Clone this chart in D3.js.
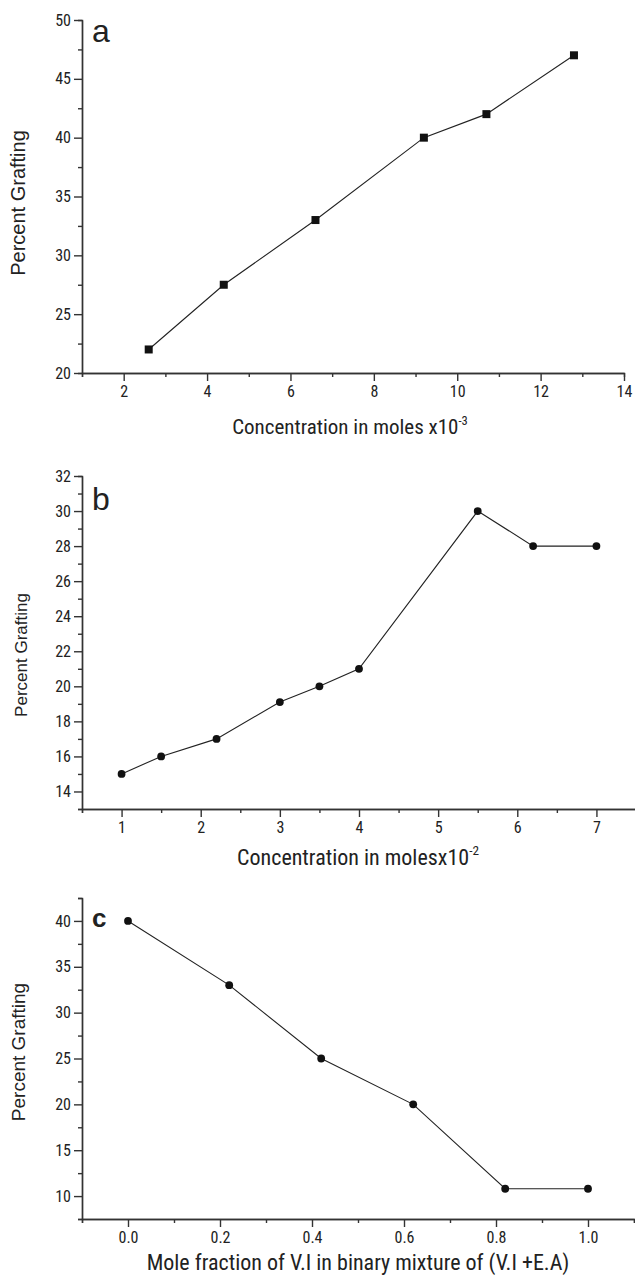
<!DOCTYPE html>
<html lang="en">
<head>
    <meta charset="UTF-8">
    <title>Percent Grafting</title>
    <script src="https://d3js.org/d3.v7.min.js"></script>
    <style>
        body { margin: 0; background: #fff; }
        svg text { fill: #222; }
    </style>
</head>
<body>
    <svg width="635" height="1275"></svg>

    <script>
        // Panel a: concentration (moles x10^-3) vs percent grafting
        const concA = [2.6, 4.4, 6.6, 9.2, 10.7, 12.8];
        const graftA = [22, 27.5, 33, 40, 42, 47];

        // Panel b: concentration (moles x10^-2) vs percent grafting
        const concB = [1, 1.5, 2.2, 3, 3.5, 4, 5.5, 6.2, 7];
        const graftB = [15, 16, 17, 19.1, 20, 21, 30, 28, 28];

        // Panel c: mole fraction of V.I vs percent grafting
        const fracC = [0, 0.22, 0.42, 0.62, 0.82, 1.0];
        const graftC = [40, 33, 25, 20, 10.8, 10.8];

        // tick values
        const xMajorA = [2, 4, 6, 8, 10, 12, 14];
        const xMinorA = [1, 3, 5, 7, 9, 11, 13];
        const yMajorA = [20, 25, 30, 35, 40, 45, 50];
        const yMinorA = [22.5, 27.5, 32.5, 37.5, 42.5, 47.5];

        const xMajorB = [1, 2, 3, 4, 5, 6, 7];
        const xMinorB = [0.5, 1.5, 2.5, 3.5, 4.5, 5.5, 6.5, 7.5];
        const yMajorB = [14, 16, 18, 20, 22, 24, 26, 28, 30, 32];
        const yMinorB = [13, 15, 17, 19, 21, 23, 25, 27, 29, 31];

        const xMajorC = [0, 0.2, 0.4, 0.6, 0.8, 1.0];
        const xMinorC = [-0.1, 0.1, 0.3, 0.5, 0.7, 0.9, 1.1];
        const yMajorC = [10, 15, 20, 25, 30, 35, 40];
        const yMinorC = [7.5, 12.5, 17.5, 22.5, 27.5, 32.5, 37.5, 42.5];

        const svg = d3.select("svg");
        const narrow = "'Liberation Sans Narrow', 'Arial Narrow', 'Roboto Condensed', sans-serif";
        const wide = "'Liberation Sans', Arial, sans-serif";

        function panel(p) {
            const x = d3.scaleLinear().domain(p.xDomain).range([82, p.xRight]);
            const y = d3.scaleLinear().domain(p.yDomain).range([p.bottom, p.top]);
            const g = svg.append("g");

            // minor ticks
            g.append("g")
                .attr("transform", `translate(0,${p.bottom})`)
                .call(d3.axisBottom(x).tickValues(p.xMinor).tickSize(4).tickFormat(""));
            g.append("g")
                .attr("transform", `translate(82,0)`)
                .call(d3.axisLeft(y).tickValues(p.yMinor).tickSize(4).tickFormat(""));

            // major ticks + labels
            g.append("g")
                .attr("transform", `translate(0,${p.bottom})`)
                .call(d3.axisBottom(x).tickValues(p.xMajor).tickSize(8).tickSizeOuter(0).tickPadding(5).tickFormat(p.xFmt));
            g.append("g")
                .attr("transform", `translate(82,0)`)
                .call(d3.axisLeft(y).tickValues(p.yMajor).tickSize(8).tickSizeOuter(0).tickPadding(3).tickFormat(d3.format("d")));

            g.selectAll(".domain, .tick line").attr("stroke", "#333").attr("stroke-width", 1.4);
            g.selectAll(".tick text")
                .style("font-family", narrow)
                .style("font-size", "16px")
                .attr("fill", "#222");

            // series line
            const line = d3.line().x(d => x(d[0])).y(d => y(d[1]));
            const pts = p.xs.map((v, i) => [v, p.ys[i]]);
            g.append("path")
                .datum(pts)
                .attr("fill", "none")
                .attr("stroke", "#222")
                .attr("stroke-width", 1.1)
                .attr("d", line);

            if (p.square) {
                g.selectAll(".pt").data(pts).join("rect")
                    .attr("x", d => x(d[0]) - 4)
                    .attr("y", d => y(d[1]) - 4)
                    .attr("width", 8)
                    .attr("height", 8)
                    .attr("fill", "#111");
            } else {
                g.selectAll(".pt").data(pts).join("circle")
                    .attr("cx", d => x(d[0]))
                    .attr("cy", d => y(d[1]))
                    .attr("r", 3.9)
                    .attr("fill", "#111");
            }

            // panel letter
            g.append("text")
                .attr("x", 92)
                .attr("y", p.letterY)
                .style("font-family", wide)
                .style("font-size", p.letterSize + "px")
                .style("font-weight", p.letterWeight || "normal")
                .text(p.letter);

            // y title
            g.append("text")
                .attr("transform", `translate(${p.yTitleX},${p.yTitleY}) rotate(-90)`)
                .attr("text-anchor", "middle")
                .style("font-family", wide)
                .style("font-size", p.yTitleSize + "px")
                .text("Percent Grafting");

            // x title
            const t = g.append("text")
                .attr("x", p.xTitleX)
                .attr("y", p.xTitleY)
                .attr("text-anchor", "middle")
                .style("font-family", narrow)
                .style("font-size", p.xTitleSize + "px");
            t.append("tspan").text(p.xTitle);
            if (p.xSup) {
                t.append("tspan")
                    .attr("dy", -p.xTitleSize * 0.45)
                    .style("font-size", (p.xTitleSize * 0.6) + "px")
                    .text(p.xSup);
            }
        }

        panel({
            xs: concA, ys: graftA, square: true,
            xDomain: [1, 14], xRight: 624, yDomain: [20, 50], top: 20, bottom: 373,
            xMajor: xMajorA, xMinor: xMinorA, yMajor: yMajorA, yMinor: yMinorA,
            xFmt: d3.format("d"),
            letter: "a", letterY: 42, letterSize: 32,
            yTitleX: 25, yTitleY: 203, yTitleSize: 20,
            xTitle: "Concentration in moles x10", xSup: "-3", xTitleX: 350, xTitleY: 434, xTitleSize: 21
        });

        panel({
            xs: concB, ys: graftB, square: false,
            xDomain: [0.5, 7.5], xRight: 636, yDomain: [13, 32], top: 476, bottom: 809,
            xMajor: xMajorB, xMinor: xMinorB, yMajor: yMajorB, yMinor: yMinorB,
            xFmt: d3.format("d"),
            letter: "b", letterY: 510, letterSize: 32,
            yTitleX: 27, yTitleY: 655, yTitleSize: 17,
            xTitle: "Concentration in molesx10", xSup: "-2", xTitleX: 358, xTitleY: 865, xTitleSize: 22
        });

        panel({
            xs: fracC, ys: graftC, square: false,
            xDomain: [-0.1, 1.1], xRight: 634, yDomain: [7.5, 42.5], top: 898, bottom: 1219,
            xMajor: xMajorC, xMinor: xMinorC, yMajor: yMajorC, yMinor: yMinorC,
            xFmt: d3.format(".1f"),
            letter: "c", letterY: 927, letterSize: 26, letterWeight: "bold",
            yTitleX: 25, yTitleY: 1052, yTitleSize: 19,
            xTitle: "Mole fraction of V.I in binary mixture of (V.I +E.A)", xSup: null, xTitleX: 358, xTitleY: 1270, xTitleSize: 22
        });
    </script>
</body>
</html>
